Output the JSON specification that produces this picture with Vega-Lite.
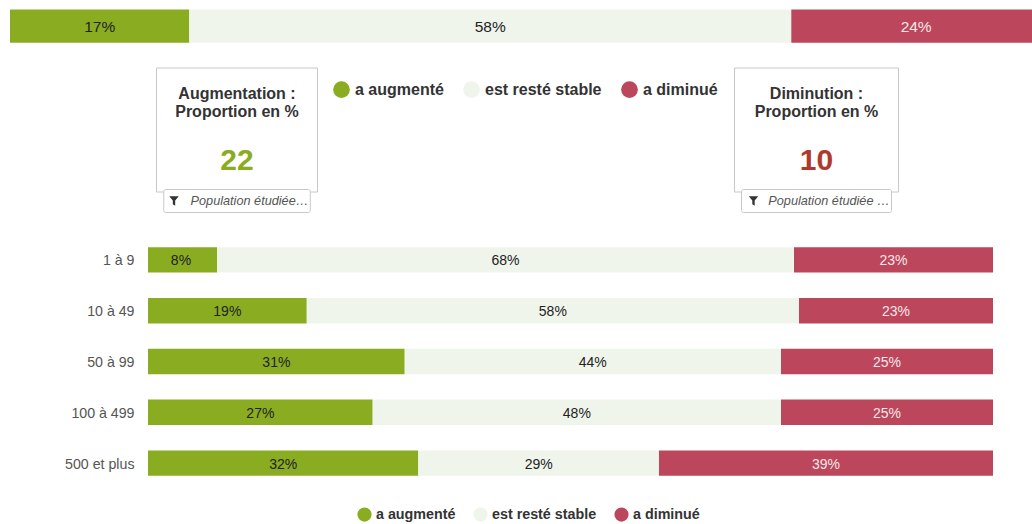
{
"$schema":"https://vega.github.io/schema/vega-lite/v6.json",
"width":1032,"height":524,"padding":0,"autosize":{"type":"none"},"background":"#ffffff",
"config":{"view":{"stroke":null},"font":"Liberation Sans","legend":{"title":null,"orient":"none","direction":"horizontal","columns":3,"symbolType":"circle","symbolStrokeWidth":0,"symbolOpacity":1,"labelFont":"Liberation Sans","labelFontWeight":"bold","labelColor":"#333333"}},
"datasets":{
"ensemble":[
{"groupe":"Ensemble","reponse":"a augmenté","debut":0,"fin":17.39,"milieu":8.7,"etiquette":"17%"},
{"groupe":"Ensemble","reponse":"est resté stable","debut":17.39,"fin":75.78,"milieu":46.58,"etiquette":"58%"},
{"groupe":"Ensemble","reponse":"a diminué","debut":75.78,"fin":100,"milieu":87.89,"etiquette":"24%"}],
"taille":[
{"groupe":"1 à 9","reponse":"a augmenté","debut":0,"fin":8.17,"milieu":3.9,"etiquette":"8%"},
{"groupe":"1 à 9","reponse":"est resté stable","debut":8.17,"fin":76.45,"milieu":42.31,"etiquette":"68%"},
{"groupe":"1 à 9","reponse":"a diminué","debut":76.45,"fin":100,"milieu":88.22,"etiquette":"23%"},
{"groupe":"10 à 49","reponse":"a augmenté","debut":0,"fin":18.79,"milieu":9.39,"etiquette":"19%"},
{"groupe":"10 à 49","reponse":"est resté stable","debut":18.79,"fin":77.04,"milieu":47.91,"etiquette":"58%"},
{"groupe":"10 à 49","reponse":"a diminué","debut":77.04,"fin":100,"milieu":88.52,"etiquette":"23%"},
{"groupe":"50 à 99","reponse":"a augmenté","debut":0,"fin":30.38,"milieu":15.19,"etiquette":"31%"},
{"groupe":"50 à 99","reponse":"est resté stable","debut":30.38,"fin":74.91,"milieu":52.64,"etiquette":"44%"},
{"groupe":"50 à 99","reponse":"a diminué","debut":74.91,"fin":100,"milieu":87.46,"etiquette":"25%"},
{"groupe":"100 à 499","reponse":"a augmenté","debut":0,"fin":26.59,"milieu":13.3,"etiquette":"27%"},
{"groupe":"100 à 499","reponse":"est resté stable","debut":26.59,"fin":74.91,"milieu":50.75,"etiquette":"48%"},
{"groupe":"100 à 499","reponse":"a diminué","debut":74.91,"fin":100,"milieu":87.46,"etiquette":"25%"},
{"groupe":"500 et plus","reponse":"a augmenté","debut":0,"fin":31.99,"milieu":16,"etiquette":"32%"},
{"groupe":"500 et plus","reponse":"est resté stable","debut":31.99,"fin":60.47,"milieu":46.23,"etiquette":"29%"},
{"groupe":"500 et plus","reponse":"a diminué","debut":60.47,"fin":100,"milieu":80.24,"etiquette":"39%"}],
"indicateurs":[
{"bloc":"KPI","carte":"Augmentation","titre":"Augmentation :\nProportion en %","valeur":22,"filtre":"Population étudiée…"},
{"bloc":"KPI","carte":"Diminution","titre":"Diminution :\nProportion en %","valeur":10,"filtre":"Population étudiée …"}]
},
"resolve":{"scale":{"x":"independent","y":"independent","color":"independent"},"axis":{"x":"independent","y":"independent"},"legend":{"color":"independent"}},
"layer":[
{"data":{"name":"ensemble"},
 "encoding":{"y":{"field":"groupe","type":"nominal","axis":null,"scale":{"type":"band","range":[9.5,42.7],"paddingInner":0,"paddingOuter":0}}},
 "layer":[
 {"mark":{"type":"bar"},
  "encoding":{"x":{"field":"debut","type":"quantitative","axis":null,"scale":{"domain":[0,100],"range":[10,1041]}},"x2":{"field":"fin"},
   "color":{"field":"reponse","type":"nominal","scale":{"domain":["a augmenté","est resté stable","a diminué"],"range":["#8AAC21","#F0F5EC","#BC465B"]},
    "legend":{"legendX":333,"legendY":81,"symbolSize":280,"labelFontSize":16,"columnPadding":19,"labelOffset":5}}}},
 {"mark":{"type":"text","fontSize":15.5,"font":"Liberation Sans","dy":1},
  "encoding":{"x":{"field":"milieu","type":"quantitative","axis":null,"scale":{"domain":[0,100],"range":[10,1041]}},"text":{"field":"etiquette"},
   "color":{"condition":{"test":"datum.reponse === 'a diminué'","value":"#F5E6E9"},"value":"#222222"}}}
 ]},
{"data":{"name":"indicateurs"},
 "encoding":{
  "x":{"field":"carte","type":"nominal","axis":null,"scale":{"type":"point","domain":["Augmentation","Diminution"],"range":[237,816.5],"padding":0}},
  "y":{"field":"bloc","type":"nominal","axis":null,"scale":{"type":"point","range":[120,140],"padding":0.5}}},
 "layer":[
 {"transform":[{"filter":"datum.carte === 'Augmentation'"}],"mark":{"type":"rect","width":161,"height":124,"fill":"#ffffff","stroke":"#c8c8c8","strokeWidth":1}},
 {"transform":[{"filter":"datum.carte === 'Diminution'"}],"mark":{"type":"rect","width":164,"height":124,"fill":"#ffffff","stroke":"#c8c8c8","strokeWidth":1}},
 {"transform":[{"filter":"datum.carte === 'Augmentation'"}],"mark":{"type":"rect","width":146.5,"height":23,"yOffset":71,"fill":"#ffffff","stroke":"#c8c8c8","strokeWidth":1,"cornerRadius":2}},
 {"transform":[{"filter":"datum.carte === 'Diminution'"}],"mark":{"type":"rect","width":150,"height":23,"yOffset":71,"fill":"#ffffff","stroke":"#c8c8c8","strokeWidth":1,"cornerRadius":2}},
 {"mark":{"type":"text","fontSize":16,"fontWeight":"bold","color":"#333333","lineBreak":"\n","lineHeight":18,"dy":-36,"baseline":"middle"},"encoding":{"text":{"field":"titre"}}},
 {"mark":{"type":"text","fontSize":30,"fontWeight":"bold","dy":31},"encoding":{"text":{"field":"valeur","type":"quantitative"},
   "color":{"condition":{"test":"datum.carte === 'Augmentation'","value":"#8AAC21"},"value":"#AE3A2C"}}},
 {"mark":{"type":"text","fontSize":12.7,"fontStyle":"italic","color":"#555555","dy":71,"dx":12.5},"encoding":{"text":{"field":"filtre"}}},
 {"mark":{"type":"point","shape":"M-1,-1L1,-1L0.25,-0.1V1L-0.25,0.7V-0.1Z","filled":true,"color":"#333333","opacity":1,"size":90,"xOffset":-63,"yOffset":71}}
 ]},
{"data":{"name":"taille"},
 "encoding":{"y":{"field":"groupe","type":"nominal","sort":null,"scale":{"type":"band","range":[234.5,488.5],"paddingInner":0.5,"paddingOuter":0.25},
   "axis":{"title":null,"orient":"left","offset":-148,"domain":false,"ticks":false,"grid":false,"labelPadding":14,"labelFontSize":14.2,"labelFont":"Liberation Sans","labelColor":"#555555","labelOffset":1.5}}},
 "layer":[
 {"mark":{"type":"bar"},
  "encoding":{"x":{"field":"debut","type":"quantitative","axis":null,"scale":{"domain":[0,100],"range":[148,993]}},"x2":{"field":"fin"},
   "color":{"field":"reponse","type":"nominal","scale":{"domain":["a augmenté","est resté stable","a diminué"],"range":["#8AAC21","#F0F5EC","#BC465B"]},
    "legend":{"legendX":357,"legendY":507,"symbolSize":200,"labelFontSize":14.3,"columnPadding":17,"labelOffset":4}}}},
 {"mark":{"type":"text","fontSize":14,"font":"Liberation Sans","dy":1.5},
  "encoding":{"x":{"field":"milieu","type":"quantitative","axis":null,"scale":{"domain":[0,100],"range":[148,993]}},"text":{"field":"etiquette"},
   "color":{"condition":{"test":"datum.reponse === 'a diminué'","value":"#F5E6E9"},"value":"#222222"}}}
 ]}
]
}
